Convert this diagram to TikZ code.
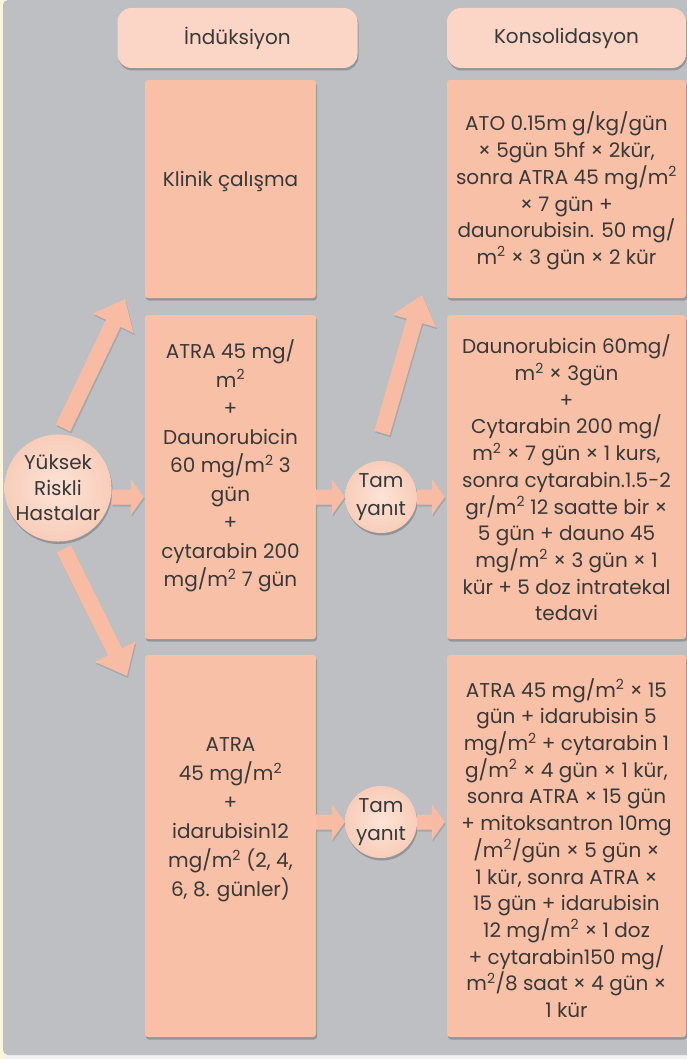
\documentclass[tikz,border=0pt]{standalone}
\usepackage{fontspec}
\setmainfont{Poppins}
\usetikzlibrary{calc,shadows}
\definecolor{bgc}{HTML}{BDBFC3}
\definecolor{creamc}{HTML}{FBF5DC}
\definecolor{pagec}{HTML}{F2F2F2}
\definecolor{boxc}{HTML}{F9C0A8}
\definecolor{hdrc}{HTML}{FBD6C6}
\definecolor{arrowc}{HTML}{F8BCA4}
\definecolor{circin}{HTML}{FDE3D7}
\definecolor{circout}{HTML}{F8CDBA}
\definecolor{txtc}{HTML}{383838}
\newcommand\bodyfont{\fontsize{20}{26.7}\selectfont}
\newcommand\sqr{\textsuperscript{2}}
\newcommand\blkarrow[5]{%
  \path ($(#2)!#5!(#1)$) coordinate (hb);
  \begin{scope}[transform canvas={shift={(1pt,-2pt)}}]
  \fill[black, opacity=0.12] ($(#1)!#3!90:(#2)$) -- ($(hb)!#3!90:(#2)$) -- ($(hb)!#4!90:(#2)$) -- (#2) -- ($(hb)!#4!-90:(#2)$) -- ($(hb)!#3!-90:(#2)$) -- ($(#1)!#3!-90:(#2)$) -- cycle;
  \end{scope}
  \fill[arrowc] ($(#1)!#3!90:(#2)$) -- ($(hb)!#3!90:(#2)$) -- ($(hb)!#4!90:(#2)$) -- (#2) -- ($(hb)!#4!-90:(#2)$) -- ($(hb)!#3!-90:(#2)$) -- ($(#1)!#3!-90:(#2)$) -- cycle;
}
\tikzset{
  softshadow/.style={drop shadow={shadow xshift=1pt, shadow yshift=-2.5pt, opacity=0.22, fill=black}},
  hdr/.style={fill=hdrc, rounded corners=14pt, minimum height=60pt, text=txtc, font=\bodyfont, softshadow},
  box/.style={fill=boxc, rounded corners=3pt, softshadow},
  lbox/.style={box, minimum width=171pt},
  rbox/.style={box, minimum width=239pt},
  txt/.style={align=center, text=txtc, font=\bodyfont, inner sep=0pt},
  circ/.style={circle, inner sep=0pt, inner color=circin, outer color=circout, align=center, text=txtc, font=\bodyfont, softshadow},
}
\begin{document}
\begin{tikzpicture}[x=1pt,y=-1pt]
\useasboundingbox (0,0) rectangle (687,1059);
\fill[pagec] (0,0) rectangle (687,1059);
\fill[creamc] (0,0) rectangle (4,1059);
\fill[bgc, rounded corners=5pt] (3,0) rectangle (694,1055);

% headers
\node[hdr, minimum width=240pt] (h1) at (237.5,38) {İndüksiyon};
\node[hdr, minimum width=239pt] (h2) at (566.5,38) {Konsolidasyon};

% boxes
\node[lbox, minimum height=218pt] (klinik) at (230.5,189) {};
\node[txt] (klinikt) at (230.5,181) {Klinik çalışma};
\node[rbox, minimum height=218pt] (r1) at (566.5,189) {};
\node[txt] (r1t) at (566.5,191) {ATO 0.15m g/kg/gün\\ × 5gün 5hf × 2kür,\\ sonra ATRA 45 mg/m\sqr\\ × 7 gün +\\ daunorubisin. 50 mg/\\ m\sqr{} × 3 gün × 2 kür};

\node[lbox, minimum height=324pt] (mid) at (230.5,477) {};
\node[txt, font=\fontsize{20}{28.5}\selectfont] (midt) at (230.5,466) {ATRA 45 mg/\\ m\sqr\\ +\\ Daunorubicin\\ 60 mg/m\sqr{} 3\\ gün\\ +\\ cytarabin 200\\ mg/m\sqr{} 7 gün};
\node[rbox, minimum height=324pt] (r2) at (566.5,477) {};
\node[txt] (r2t) at (566.5,478) {Daunorubicin 60mg/\\ m\sqr{} × 3gün\\ +\\ Cytarabin 200 mg/\\ m\sqr{} × 7 gün × 1 kurs,\\ sonra cytarabin.1.5-2\\ gr/m\sqr{} 12 saatte bir ×\\ 5 gün + dauno 45\\ mg/m\sqr{} × 3 gün × 1\\ kür + 5 doz intratekal\\ tedavi};

\node[lbox, minimum height=382pt] (bl) at (230.5,846) {};
\node[txt, font=\fontsize{20}{29}\selectfont] (blt) at (230.5,820) {ATRA\\ 45 mg/m\sqr\\ +\\ idarubisin12\\ mg/m\sqr{} (2, 4,\\ 6, 8. günler)};
\node[rbox, minimum height=382pt] (r3) at (566.5,846) {};
\node[txt] (r3t) at (566.5,848) {ATRA 45 mg/m\sqr{} × 15\\ gün + idarubisin 5\\ mg/m\sqr{} + cytarabin 1\\ g/m\sqr{} × 4 gün × 1 kür,\\ sonra ATRA × 15 gün\\ + mitoksantron 10mg\\ /m\sqr/gün × 5 gün ×\\ 1 kür, sonra ATRA ×\\ 15 gün + idarubisin\\ 12 mg/m\sqr{} × 1 doz\\ + cytarabin150 mg/\\ m\sqr/8 saat × 4 gün ×\\ 1 kür};

% circles
\node[circ, minimum size=104pt, font=\fontsize{20}{25.5}\selectfont] (yuk) at (58,488) {Yüksek\\ Riskli\\ Hastalar};
\node[circ, minimum size=72pt, font=\fontsize{20}{28}\selectfont] (tam1) at (381,497) {Tam\\ yanıt};
\node[circ, minimum size=72pt, font=\fontsize{20}{28}\selectfont] (tam2) at (381,822) {Tam\\ yanıt};

% arrow end points
\coordinate (a1t) at (63,428);
\coordinate (a1h) at (125,299);
\coordinate (a2t) at (64,549);
\coordinate (a2h) at (127,676);
\coordinate (a3t) at (382,433);
\coordinate (a3h) at (422,295);
\coordinate (a4t) at (yuk.east |- tam1);
\coordinate (a4h) at ($(mid.west |- tam1)+(-1,0)$);
\coordinate (a5t) at (mid.east |- tam1);
\coordinate (a5h) at (tam1.west);
\coordinate (a6t) at (tam1.east);
\coordinate (a6h) at ($(r2.west |- tam1)+(-2,0)$);
\coordinate (a7t) at (bl.east |- tam2);
\coordinate (a7h) at (tam2.west);
\coordinate (a8t) at (tam2.east);
\coordinate (a8h) at ($(r3.west |- tam2)+(-2,0)$);

\blkarrow{a1t}{a1h}{8pt}{22.5pt}{27pt}
\blkarrow{a2t}{a2h}{8pt}{22.5pt}{27pt}
\blkarrow{a3t}{a3h}{8pt}{22.5pt}{27pt}
\blkarrow{a4t}{a4h}{7.5pt}{18pt}{13pt}
\blkarrow{a5t}{a5h}{7.5pt}{18pt}{13pt}
\blkarrow{a6t}{a6h}{7.5pt}{18pt}{13pt}
\blkarrow{a7t}{a7h}{7.5pt}{18pt}{13pt}
\blkarrow{a8t}{a8h}{7.5pt}{18pt}{13pt}
\end{tikzpicture}
\end{document}
